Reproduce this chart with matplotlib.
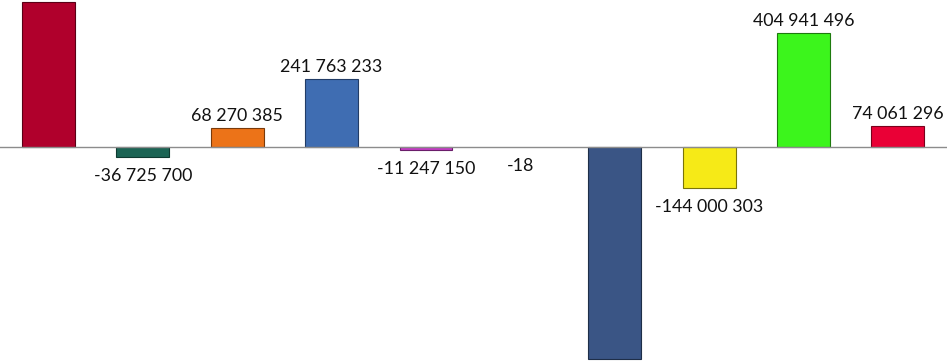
import matplotlib.pyplot as plt

# bar values (first and seventh bars run off the edges)
values = [515000000, -36725700, 68270385, 241763233, -11247150, -18,
          -753000000, -144000303, 404941496, 74061296]
labels = ["", "-36 725 700", "68 270 385", "241 763 233", "-11 247 150", "-18",
          "", "-144 000 303", "404 941 496", "74 061 296"]
colors = ["#B0002C", "#1B6454", "#EC7318", "#3F6DB2", "#C43CC4", "#FFFFFF",
          "#3A5585", "#F6EA17", "#3CF51C", "#EA0036"]
edges = ["#5A0016", "#0E3A30", "#7A3A0A", "#223C66", "#6A1E6A", "none",
         "#1E2E48", "#7A740A", "#1E7A0E", "#7A001C"]

fig = plt.figure(figsize=(9.47, 3.62), dpi=100)
ax = fig.add_axes([0, 0, 1, 1])
x = list(range(len(values)))
ax.bar(x, values, width=0.56, color=colors, edgecolor=edges, linewidth=0.8, zorder=2)
ax.axhline(0, color="#8C8C8C", linewidth=1.0, zorder=3)

per_px = 404941496 / 114.0
ax.set_ylim(-(362 - 147) * per_px, 147 * per_px)
ax.set_xlim(-0.514, 9.521)

for i, (v, t) in enumerate(zip(values, labels)):
    if not t:
        continue
    if v >= 0:
        ax.annotate(t, (i, v), xytext=(0, 3), textcoords="offset points",
                    ha="center", va="bottom", fontsize=12.8, family="Lato", color="#111111")
    else:
        ax.annotate(t, (i, v), xytext=(0, -8), textcoords="offset points",
                    ha="center", va="top", fontsize=12.8, family="Lato", color="#111111")

ax.axis("off")
fig.savefig("out.png", dpi=100)
